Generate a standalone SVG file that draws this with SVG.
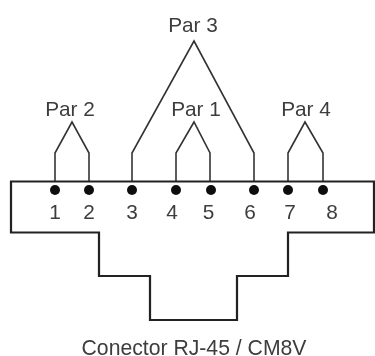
<svg xmlns="http://www.w3.org/2000/svg" width="375" height="356" viewBox="0 0 375 356">
<defs><filter id="soft" x="0" y="0" width="375" height="356" filterUnits="userSpaceOnUse"><feGaussianBlur stdDeviation="0.6"/></filter></defs>
<style>
text{font-family:"Liberation Sans",Arial,sans-serif;font-size:20.8px;fill:#3c3c3c;text-anchor:middle}
.w{fill:none;stroke:#333;stroke-width:1.6;stroke-linejoin:miter}
.b{fill:none;stroke:#222;stroke-width:2.2}
.d{fill:#111}
</style>
<rect width="375" height="356" fill="#fff"/>
<g filter="url(#soft)">
<g id="connectors">
<path class="w" d="M55 181V153L72 122L89 153V181"/>
<path class="w" d="M132 181V153L194 41L254 153V181"/>
<path class="w" d="M176 181V153L194 122L210 153V181"/>
<path class="w" d="M288 181V153L305 122L323 153V181"/>
</g>
<g id="connector-body"><path class="b" d="M374 181.500H11V232.500H99V276H150V320H237V276H288V232.500H374Z"/></g>
<g id="pin-1"><circle class="d" cx="55" cy="190" r="5"/><text x="55" y="219">1</text></g>
<g id="pin-2"><circle class="d" cx="89" cy="190" r="5"/><text x="89" y="219">2</text></g>
<g id="pin-3"><circle class="d" cx="132" cy="190" r="5"/><text x="132" y="219">3</text></g>
<g id="pin-4"><circle class="d" cx="176" cy="190" r="5"/><text x="172" y="219">4</text></g>
<g id="pin-5"><circle class="d" cx="211" cy="190" r="5"/><text x="208.500" y="219">5</text></g>
<g id="pin-6"><circle class="d" cx="254" cy="190" r="5"/><text x="250" y="219">6</text></g>
<g id="pin-7"><circle class="d" cx="288" cy="190" r="5"/><text x="290" y="219">7</text></g>
<g id="pin-8"><circle class="d" cx="323" cy="190" r="5"/><text x="332" y="219">8</text></g>
<g id="par-2"><text x="70" y="116">Par 2</text></g>
<g id="par-3"><text x="193" y="32">Par 3</text></g>
<g id="par-1"><text x="196" y="116">Par 1</text></g>
<g id="par-4"><text x="306" y="116">Par 4</text></g>
<g id="title"><text x="194" y="355" style="font-size:21.2px">Conector RJ-45 / CM8V</text></g>
</g>
</svg>
